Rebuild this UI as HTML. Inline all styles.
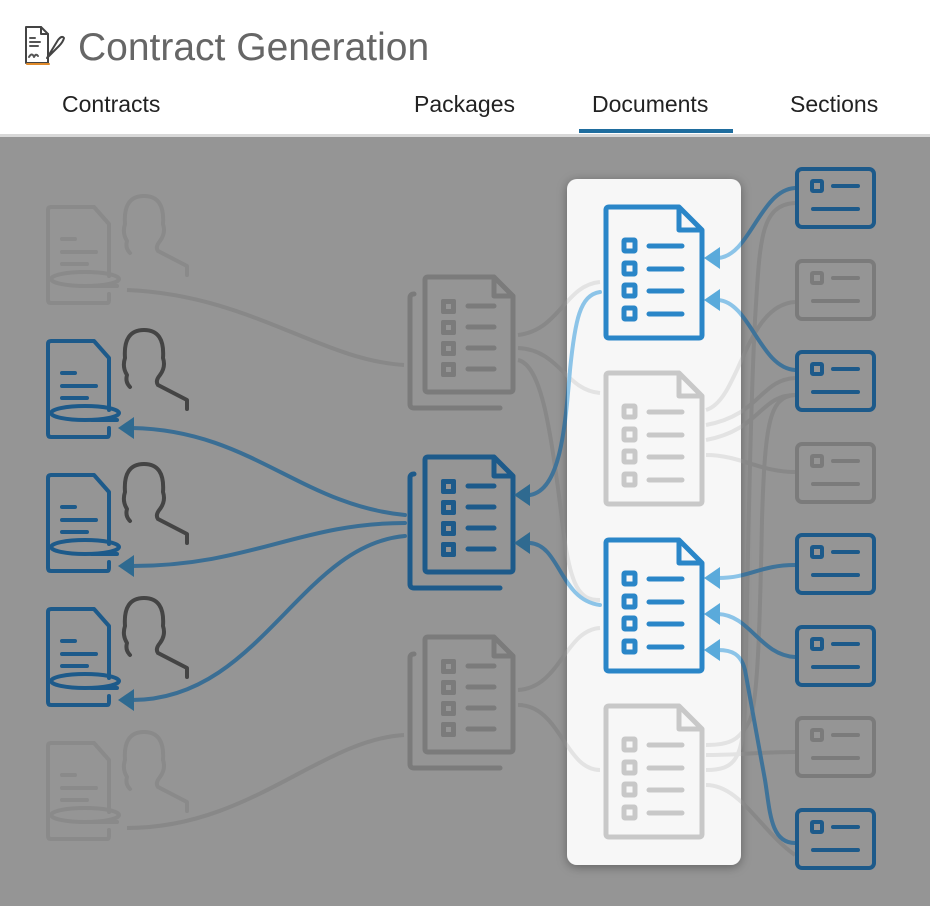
<!DOCTYPE html>
<html><head><meta charset="utf-8"><style>
html,body{margin:0;padding:0;width:930px;height:906px;overflow:hidden;background:#fff}
svg{display:block}
</style></head><body>
<svg width="930" height="906" viewBox="0 0 930 906" xmlns="http://www.w3.org/2000/svg">
<defs>
  <clipPath id="inPanel"><rect x="567" y="179" width="174" height="686" rx="10"/></clipPath>
  <clipPath id="outPanel"><path d="M0,136H930V906H0Z M567,179V865H741V179Z" clip-rule="evenodd"/></clipPath>
  <filter id="sh" x="-20%" y="-10%" width="140%" height="120%"><feDropShadow dx="0" dy="2" stdDeviation="5" flood-color="#000" flood-opacity="0.35"/></filter>
  <g id="contract" fill="none" stroke-width="4" stroke-linecap="round" stroke-linejoin="round">
    <path d="M62,70 V18 L47,1 H4 Q1,1 1,4 V94 Q1,97 4,97 H60 Q62,97 62,94 V88"/>
    <path d="M15,33 H28 M15,46 H49 M15,58 H40"/>
    <ellipse cx="38" cy="73" rx="34" ry="7"/>
    <path d="M45,80 H70"/>
  </g>
  <path id="person" fill="none" stroke-width="4" stroke-linecap="round" stroke-linejoin="round" d="M83,47 Q78,42 80,35 Q75,27 78,18 Q76,-10 97,-10 Q118,-10 116,18 Q119,27 113,35 Q108,41 111,45 L140,60 V69"/>
  <g id="pkg" stroke-width="5" stroke-linecap="round" stroke-linejoin="round">
    <path fill="none" d="M20,0 H86 L105,19 V112 Q105,115 102,115 H20 Q17,115 17,112 V3 Q17,0 20,0 Z M86,0 V19 H105"/>
    <path fill="none" d="M6,17 Q2,17 2,21 V127 Q2,131 6,131 H92"/>
  </g>
  <g id="doc" stroke-width="5" stroke-linecap="round" stroke-linejoin="round" fill="none">
    <path d="M4,0 H74 L97,23 V128 Q97,131 94,131 H4 Q1,131 1,128 V3 Q1,0 4,0 Z M74,0 V23 H97"/>
    <path d="M44,39 H77 M44,62 H77 M44,84 H77 M44,107 H77"/>
    <rect x="19" y="33" width="11" height="11" rx="1"/>
    <rect x="19" y="56" width="11" height="11" rx="1"/>
    <rect x="19" y="78" width="11" height="11" rx="1"/>
    <rect x="19" y="101" width="11" height="11" rx="1"/>
  </g>
  <g id="sec" fill="none" stroke-width="4" stroke-linecap="round">
    <rect x="2" y="2" width="77" height="58" rx="5"/>
    <rect x="17" y="14" width="10" height="10" rx="1"/>
    <path d="M38,19 H63 M18,42 H63"/>
  </g>
</defs>

<!-- header -->
<rect x="0" y="0" width="930" height="136" fill="#fff"/>
<g fill="none" stroke-width="2" stroke-linecap="round" stroke-linejoin="round">
  <path d="M26,27 H41 L48,34 V63 H26 Z" stroke="#444"/>
  <path d="M41,27 V34 H48" stroke="#444"/>
  <path d="M30,38 H35 M30,42 H40 M30,46 H38" stroke="#555"/>
  <path d="M29,57 Q32,52 34,57 Q36,53 38,56" stroke="#555"/>
  <path d="M47,58 L58,40 Q62,35 64,38 Q63,42 59,46 Z" stroke="#444"/>
  <path d="M27,64 H49" stroke="#e08a2a"/>
</g>
<text x="78" y="60" font-family="Liberation Sans, sans-serif" font-size="39" fill="#666">Contract Generation</text>
<g font-family="Liberation Sans, sans-serif" font-size="23" fill="#222">
  <text x="62" y="112">Contracts</text>
  <text x="414" y="112">Packages</text>
  <text x="592" y="112">Documents</text>
  <text x="790" y="112">Sections</text>
</g>
<rect x="579" y="129" width="154" height="4" fill="#1f6d9e"/>
<rect x="0" y="134" width="930" height="3" fill="#d8d8d8"/>

<!-- background -->
<rect x="0" y="137" width="930" height="769" fill="#959595"/>

<!-- panel -->
<rect x="567" y="179" width="174" height="686" rx="10" fill="#f7f7f7" filter="url(#sh)"/>

<!-- faded grey connectors (inside/outside panel) -->
<g fill="none" stroke-width="4" stroke-linecap="round">
  <g id="fl">
    <path d="M127,290 C250,295 320,360 404,365"/>
    <path d="M127,828 C250,828 320,740 404,735"/>
    <path d="M518,335 C560,330 565,285 600,282"/>
    <path d="M518,348 C560,350 565,390 600,393"/>
    <path d="M518,360 C540,365 550,420 562,520 C570,590 580,600 600,600"/>
    <path d="M518,690 C560,688 565,630 600,628"/>
    <path d="M518,705 C560,705 565,770 600,770"/>
    <path d="M706,410 C740,400 745,305 795,302"/>
    <path d="M706,425 C760,415 760,380 795,378"/>
    <path d="M706,440 C760,430 760,395 795,395"/>
    <path d="M706,455 C740,455 760,472 795,472"/>
    <path d="M795,203 C760,205 760,240 755,320 C750,420 748,560 745,700 C744,760 735,770 706,770"/>
    <path d="M795,395 C770,397 765,420 762,520 C760,620 758,700 750,720 C740,740 730,745 706,745"/>
    <path d="M706,755 C740,755 760,752 795,752"/>
    <path d="M706,785 C740,785 760,830 795,855"/>
  </g>
</g>
<g clip-path="url(#inPanel)" stroke="#e3e3e3" fill="none" stroke-width="4"><use href="#fl"/></g>
<g clip-path="url(#outPanel)" stroke="#888" fill="none" stroke-width="4"><use href="#fl"/></g>

<!-- contracts -->
<g stroke="#888"><use href="#contract" x="47" y="206" stroke="#8a8a8a"/><use href="#person" x="47" y="206" stroke="#8a8a8a"/></g>
<use href="#contract" x="47" y="340" stroke="#1d5a8a"/><use href="#person" x="47" y="340" stroke="#444"/>
<use href="#contract" x="47" y="474" stroke="#1d5a8a"/><use href="#person" x="47" y="474" stroke="#444"/>
<use href="#contract" x="47" y="608" stroke="#1d5a8a"/><use href="#person" x="47" y="608" stroke="#444"/>
<use href="#contract" x="47" y="742" stroke="#8a8a8a"/><use href="#person" x="47" y="742" stroke="#8a8a8a"/>

<!-- blue connectors package -> contracts -->
<g fill="none" stroke="#3a6e94" stroke-width="4" stroke-linecap="round">
  <path d="M405,515 C300,505 250,430 132,428"/>
  <path d="M405,523 C300,523 250,566 132,566"/>
  <path d="M405,536 C300,545 260,700 132,700"/>
</g>
<g fill="#2f6a90">
  <path d="M118,428 L134,417 V439 Z"/>
  <path d="M118,566 L134,555 V577 Z"/>
  <path d="M118,700 L134,689 V711 Z"/>
</g>

<!-- packages -->
<use href="#pkg" x="408" y="277" stroke="#7b7b7b"/>
<use href="#pkg" x="408" y="457" stroke="#1d5a8a"/>
<use href="#pkg" x="408" y="637" stroke="#7b7b7b"/>
<g fill="#7b7b7b"><rect x="441" y="299" width="15" height="15" rx="2"/><rect x="441" y="320" width="15" height="15" rx="2"/><rect x="441" y="341" width="15" height="15" rx="2"/><rect x="441" y="362" width="15" height="15" rx="2"/>
<rect x="441" y="659" width="15" height="15" rx="2"/><rect x="441" y="680" width="15" height="15" rx="2"/><rect x="441" y="701" width="15" height="15" rx="2"/><rect x="441" y="722" width="15" height="15" rx="2"/></g>
<g fill="#1d5a8a"><rect x="441" y="479" width="15" height="15" rx="2"/><rect x="441" y="500" width="15" height="15" rx="2"/><rect x="441" y="521" width="15" height="15" rx="2"/><rect x="441" y="542" width="15" height="15" rx="2"/></g>
<g fill="#959595"><rect x="446" y="304" width="5" height="5"/><rect x="446" y="325" width="5" height="5"/><rect x="446" y="346" width="5" height="5"/><rect x="446" y="367" width="5" height="5"/>
<rect x="446" y="664" width="5" height="5"/><rect x="446" y="685" width="5" height="5"/><rect x="446" y="706" width="5" height="5"/><rect x="446" y="727" width="5" height="5"/>
<rect x="446" y="484" width="5" height="5"/><rect x="446" y="505" width="5" height="5"/><rect x="446" y="526" width="5" height="5"/><rect x="446" y="547" width="5" height="5"/></g>
<g stroke-width="5" stroke-linecap="round"><path stroke="#7b7b7b" d="M468,306H494M468,327H494M468,348H494M468,369H494M468,666H494M468,687H494M468,708H494M468,729H494"/>
<path stroke="#1d5a8a" d="M468,486H494M468,507H494M468,528H494M468,549H494"/></g>

<!-- blue connectors docs -> package and sections -> docs -->
<g fill="none" stroke-width="4" stroke-linecap="round">
  <g id="bl">
    <path d="M600,292 C580,295 575,320 570,370 C565,430 560,490 530,495"/>
    <path d="M600,605 C560,600 560,545 530,543"/>
    <path d="M795,188 C760,190 750,256 718,258"/>
    <path d="M795,370 C760,368 750,302 718,300"/>
    <path d="M795,565 C760,565 750,578 718,578"/>
    <path d="M795,657 C760,655 750,615 718,614"/>
    <path d="M795,843 C770,843 770,810 765,780 L745,670 C741,654 732,650 718,650"/>
  </g>
</g>
<g clip-path="url(#inPanel)" stroke="#8cc4e8" fill="none" stroke-width="4" stroke-linecap="round"><use href="#bl"/></g>
<g clip-path="url(#outPanel)" stroke="#3f7399" fill="none" stroke-width="4" stroke-linecap="round"><use href="#bl"/></g>
<g fill="#2f6a90">
  <path d="M514,495 L530,484 V506 Z"/>
  <path d="M514,543 L530,532 V554 Z"/>
</g>
<g fill="#5aaadb">
  <path d="M704,258 L720,247 V269 Z"/>
  <path d="M704,300 L720,289 V311 Z"/>
  <path d="M704,578 L720,567 V589 Z"/>
  <path d="M704,614 L720,603 V625 Z"/>
  <path d="M704,650 L720,639 V661 Z"/>
</g>

<!-- documents -->
<use href="#doc" x="605" y="207" stroke="#2a86c8"/>
<use href="#doc" x="605" y="373" stroke="#c8c8c8"/>
<use href="#doc" x="605" y="540" stroke="#2a86c8"/>
<use href="#doc" x="605" y="706" stroke="#c8c8c8"/>

<!-- sections -->
<use href="#sec" x="795" y="167" stroke="#1d5a8a"/>
<use href="#sec" x="795" y="259" stroke="#7b7b7b"/>
<use href="#sec" x="795" y="350" stroke="#1d5a8a"/>
<use href="#sec" x="795" y="442" stroke="#7b7b7b"/>
<use href="#sec" x="795" y="533" stroke="#1d5a8a"/>
<use href="#sec" x="795" y="625" stroke="#1d5a8a"/>
<use href="#sec" x="795" y="716" stroke="#7b7b7b"/>
<use href="#sec" x="795" y="808" stroke="#1d5a8a"/>
</svg>
</body></html>
